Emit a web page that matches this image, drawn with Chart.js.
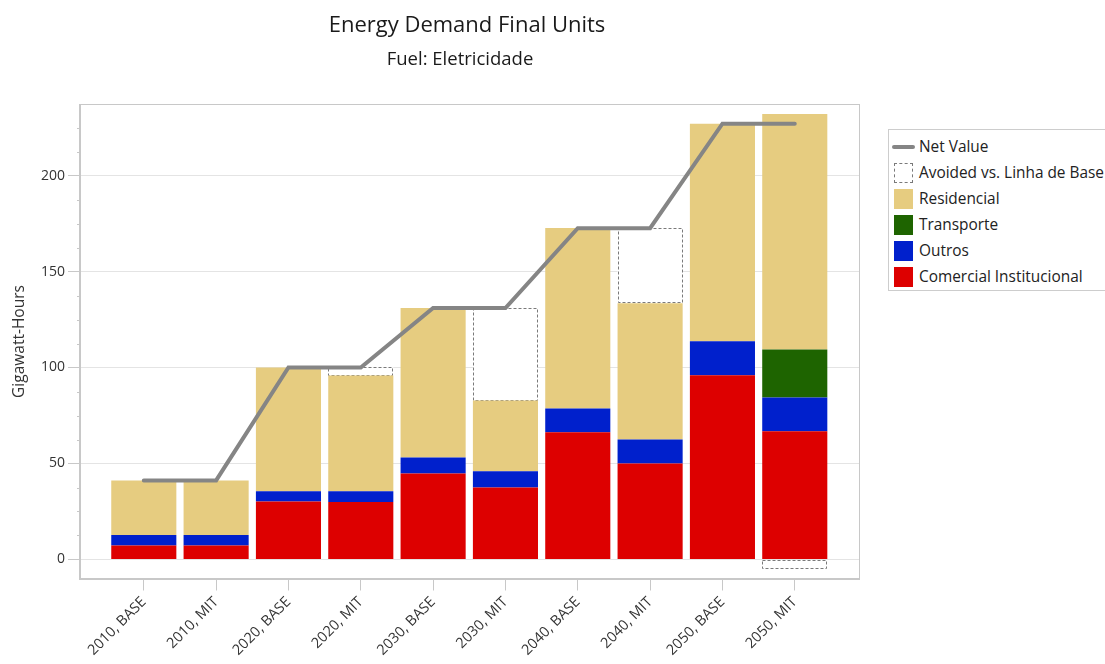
<!DOCTYPE html>
<html>
<head>
<meta charset="utf-8">
<script src="https://cdn.jsdelivr.net/npm/chart.js@4.4.1/dist/chart.umd.min.js"></script>
<style>
  html, body { margin: 0; padding: 0; background: #ffffff; overflow: hidden; }
  #wrap { position: relative; width: 1105px; height: 664px; overflow: hidden; }
  #chart { position: absolute; left: 0; top: 0; }
  #legend { position: absolute; left: 888px; top: 129px; width: 240px; height: 162px;
            border: 1px solid #cdcdcd; box-sizing: border-box; background: #fff;
            font-family: 'Open Sans', sans-serif; font-size: 15.4px; color: #222; }
  .lg-item { position: absolute; left: 0; width: 260px; height: 20px; }
  .lg-sym { position: absolute; box-sizing: border-box; }
  .lg-text { position: absolute; left: 30px; top: 0; line-height: 20px; white-space: nowrap; }
</style>
</head>
<body>
<div id="wrap">
  <canvas id="chart" width="1105" height="664"></canvas>
  <div id="legend"></div>
</div>
<script>
// ---- data ----
const categories = ['2010, BASE', '2010, MIT', '2020, BASE', '2020, MIT', '2030, BASE',
                    '2030, MIT', '2040, BASE', '2040, MIT', '2050, BASE', '2050, MIT'];
const comercialInstitucional = [7.3, 7.3, 30.2, 30.0, 44.8, 37.5, 66.3, 50.0, 96.0, 66.8];
const outros = [5.4, 5.4, 5.4, 5.6, 8.3, 8.5, 12.4, 12.5, 17.7, 17.6];
const transporte = [0, 0, 0, 0, 0, 0, 0, 0, 0, 25.0];
const residencial = [28.5, 28.5, 64.4, 60.2, 77.9, 36.8, 94.0, 71.0, 113.3, 122.7];
const avoided = [null, null, null, 4.3, null, 48.2, null, 39.1, null, -5.2];
const netValue = [41.2, 41.2, 100, 100, 131, 131, 172.6, 172.6, 227, 227];
const yTickValues = [0, 50, 100, 150, 200];
const yMinorStep = 12.5;

const TITLE = 'Energy Demand Final Units';
const SUBTITLE = 'Fuel: Eletricidade';

const FONT = "'Open Sans', sans-serif";
const TEXT = '#333333';
const AXIS = '#c8c8c8';

const pts = arr => arr.map((v, i) => ({ x: i, y: v }));

const AVOIDED_INDEX = 4;

const dashedBars = {
  id: 'dashedBars',
  afterDatasetDraw(chart, args) {
    if (args.index !== AVOIDED_INDEX) return;
    const ctx = chart.ctx;
    const meta = args.meta;
    ctx.save();
    ctx.strokeStyle = '#7a7a7a';
    ctx.lineWidth = 1;
    ctx.setLineDash([3, 2]);
    meta.data.forEach((el, i) => {
      const v = avoided[i];
      if (v === null || v === 0) return;
      const p = el.getProps(['x', 'y', 'base', 'width'], true);
      const left = Math.round(p.x - p.width / 2) + 0.5;
      const right = Math.round(p.x + p.width / 2) - 0.5;
      const top = Math.round(Math.min(p.y, p.base)) + 0.5;
      const bottom = Math.round(Math.max(p.y, p.base)) - 0.5;
      ctx.strokeRect(left, top, right - left, bottom - top);
    });
    ctx.restore();
  }
};

const frameAndMinor = {
  id: 'frameAndMinor',
  afterDraw(chart) {
    const { ctx, chartArea: a } = chart;
    const y = chart.scales.y;
    ctx.save();
    ctx.strokeStyle = AXIS;
    ctx.lineWidth = 1;
    ctx.strokeRect(Math.round(a.left) - 0.5, Math.round(a.top) - 0.5,
                   Math.round(a.right - a.left) + 1, Math.round(a.bottom - a.top) + 1);
    ctx.beginPath();
    for (let v = 0; v <= y.max; v += yMinorStep) {
      if (v % 50 === 0) continue;
      const py = Math.round(y.getPixelForValue(v)) + 0.5;
      ctx.moveTo(a.left - 3, py);
      ctx.lineTo(a.left, py);
    }
    ctx.stroke();
    ctx.restore();
  }
};

// nudge the title / subtitle boxes horizontally to match the original placement
const titleNudge = {
  id: 'titleNudge',
  afterLayout(chart) {
    chart.boxes.forEach(b => {
      if (!b.options || typeof b.options.text !== 'string') return;
      const dx = b.options.text === SUBTITLE ? -9.5 : (b.options.text === TITLE ? -2.5 : 0);
      b.left += dx; b.right += dx;
    });
  }
};

const barBase = { type: 'bar', stack: 'main', order: 1, borderWidth: 0,
                  barPercentage: 0.9, categoryPercentage: 1.0 };

const chart = new Chart(document.getElementById('chart'), {
  data: {
    datasets: [
      Object.assign({ label: 'Comercial Institucional', data: pts(comercialInstitucional), backgroundColor: '#dd0000' }, barBase),
      Object.assign({ label: 'Outros', data: pts(outros), backgroundColor: '#0020cc' }, barBase),
      Object.assign({ label: 'Transporte', data: pts(transporte), backgroundColor: '#1e6400' }, barBase),
      Object.assign({ label: 'Residencial', data: pts(residencial), backgroundColor: '#e6cc80' }, barBase),
      Object.assign({ label: 'Avoided vs. Linha de Base', data: pts(avoided), backgroundColor: '#ffffff' }, barBase),
      { type: 'line', label: 'Net Value', data: pts(netValue), stack: 'net', order: 0,
        borderColor: '#858585', borderWidth: 4, pointRadius: 0, pointHoverRadius: 0,
        tension: 0, fill: false, borderCapStyle: 'round', borderJoinStyle: 'miter' }
    ]
  },
  options: {
    responsive: false,
    animation: false,
    devicePixelRatio: 1,
    layout: { padding: { left: 0, right: 246, top: 0, bottom: 0 } },
    plugins: {
      legend: { display: false },
      tooltip: { enabled: false },
      title: {
        display: true, text: TITLE, fullSize: false,
        font: { family: FONT, size: 22, weight: 'normal' }, color: '#1a1a1a',
        padding: { top: 13, bottom: 0 }
      },
      subtitle: {
        display: true, text: SUBTITLE, fullSize: false,
        font: { family: FONT, size: 18.5, weight: 'normal' }, color: '#1a1a1a',
        padding: { top: 9.5, bottom: 33.4 }
      }
    },
    scales: {
      x: {
        type: 'linear', min: -0.882, max: 9.888, offset: false,
        afterBuildTicks: s => { s.ticks = categories.map((c, i) => ({ value: i })); },
        afterFit: s => { s.height = 85.5; },
        ticks: {
          callback: v => categories[v],
          minRotation: 45, maxRotation: 45, autoSkip: false,
          font: { family: FONT, size: 14.5 }, color: TEXT, padding: 3
        },
        grid: { offset: false, drawOnChartArea: false, drawTicks: true, tickLength: 12, tickColor: AXIS, color: AXIS },
        border: { display: true, color: AXIS }
      },
      y: {
        type: 'linear', stacked: true, min: -9.9, max: 237,
        afterBuildTicks: s => { s.ticks = yTickValues.map(v => ({ value: v })); },
        afterFit: s => { s.width = 80; },
        ticks: { font: { family: FONT, size: 14 }, color: TEXT, padding: 3 },
        grid: { color: '#e4e4e4', tickLength: 12, tickColor: AXIS },
        border: { display: true, color: AXIS },
        title: { display: true, text: 'Gigawatt-Hours', font: { family: FONT, size: 15.5 },
                 color: TEXT, padding: { top: 10, bottom: 0 } }
      }
    }
  },
  plugins: [dashedBars, frameAndMinor, titleNudge]
});

// ---- HTML legend (built from the chart's datasets) ----
const legendEl = document.getElementById('legend');
const order = [5, 4, 3, 2, 1, 0];
order.forEach((di, row) => {
  const ds = chart.data.datasets[di];
  const item = document.createElement('div');
  item.className = 'lg-item';
  item.style.top = (7 + row * 25.9) + 'px';
  const sym = document.createElement('div');
  sym.className = 'lg-sym';
  if (ds.type === 'line') {
    Object.assign(sym.style, { left: '3px', top: '8px', width: '23px', height: '4px',
      background: ds.borderColor, borderRadius: '2px' });
  } else if (di === AVOIDED_INDEX) {
    Object.assign(sym.style, { left: '5px', top: '0px', width: '19px', height: '20px',
      border: '1px dashed #7a7a7a', background: '#fff' });
  } else {
    Object.assign(sym.style, { left: '5px', top: '0px', width: '19px', height: '20px',
      background: ds.backgroundColor });
  }
  const txt = document.createElement('div');
  txt.className = 'lg-text';
  txt.textContent = ds.label;
  item.appendChild(sym);
  item.appendChild(txt);
  legendEl.appendChild(item);
});
</script>
</body>
</html>
